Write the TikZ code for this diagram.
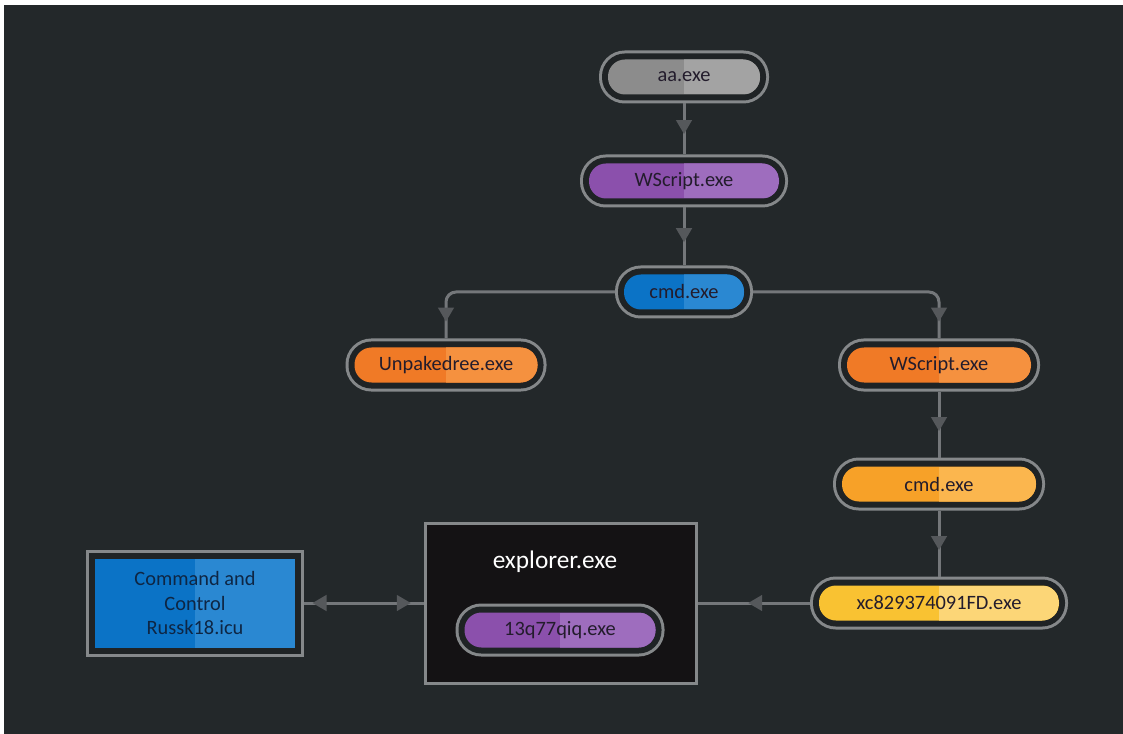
\documentclass[tikz,border=0pt]{standalone}
\usepackage{fontspec}
\setmainfont{Carlito}
\usetikzlibrary{arrows.meta,decorations.markings}
\newlength\px
\setlength\px{0.025cm}

\definecolor{bgdark}{HTML}{23282A}
\definecolor{gapdark}{HTML}{1F2325}
\definecolor{ringgray}{HTML}{85888A}
\definecolor{linegray}{HTML}{74777A}
\definecolor{arrowgray}{HTML}{55585B}
\definecolor{txtdark}{HTML}{231C2C}
\definecolor{txtnavy}{HTML}{0E2644}
\definecolor{graylo}{HTML}{8C8C8C}
\definecolor{grayhi}{HTML}{A3A3A3}
\definecolor{purplelo}{HTML}{8B50AC}
\definecolor{purplehi}{HTML}{9E6DBE}
\definecolor{bluelo}{HTML}{0B73C6}
\definecolor{bluehi}{HTML}{2A88D2}
\definecolor{orangelo}{HTML}{F07A26}
\definecolor{orangehi}{HTML}{F5913F}
\definecolor{amberlo}{HTML}{F7A128}
\definecolor{amberhi}{HTML}{FBB64E}
\definecolor{yellowlo}{HTML}{F9C232}
\definecolor{yellowhi}{HTML}{FCD677}
\definecolor{explorerfill}{HTML}{141214}

\tikzset{
	twotone/.style 2 args={fill=#1, path picture={\fill[#2, sharp corners] (path picture bounding box.north) rectangle (path picture bounding box.south east);}},
	ringed/.style={preaction={draw=ringgray, line width=18\px}, preaction={draw=gapdark, line width=12\px}, inner sep=0pt, outer sep=9\px},
	pill/.style 2 args={rectangle, rounded corners=17\px, minimum height=35\px, twotone={#1}{#2}, ringed, text=txtdark, font=\fontsize{14.5}{17}\selectfont},
	link/.style={draw=linegray, line width=3\px},
	tipat/.style={postaction={decorate, decoration={markings, mark=at position #1 with {\arrow[color=arrowgray]{Triangle[width=11pt,length=10pt]}}}}},
	tipback/.style={postaction={decorate, decoration={markings, mark=at position #1 with {\arrowreversed[color=arrowgray]{Triangle[width=11pt,length=10pt]}}}}}
}

\begin{document}
\begin{tikzpicture}[x=1\px, y=-1\px]
	%%%%% START %%%%%
	\useasboundingbox (0,0) rectangle (1123,734);
	\fill[white] (0,0) rectangle (1123,734);
	\fill[bgdark] (4,5) rectangle (1123,734);

	% process chain
	\node[pill={graylo}{grayhi}, minimum width=152\px] (aa) at (684,77) {aa.exe};
	\node[pill={purplelo}{purplehi}, minimum width=190\px] (wsa) at (684,181) {WScript.exe};
	\node[pill={bluelo}{bluehi}, minimum width=120\px] (cmda) at (684,292) {cmd.exe};
	\node[pill={orangelo}{orangehi}, minimum width=183\px] (unpak) at (446,365) {Unpakedree.exe};
	\node[pill={orangelo}{orangehi}, minimum width=184\px] (wsb) at (939,365) {WScript.exe};
	\node[pill={amberlo}{amberhi}, minimum width=194\px] (cmdb) at (939,484) {cmd.exe};
	\node[pill={yellowlo}{yellowhi}, minimum width=240\px] (xc) at (939,603) {xc829374091FD.exe};

	% injected explorer
	\node[draw=ringgray, line width=3\px, fill=explorerfill, minimum width=271\px, minimum height=160\px] (explorer) at (560.5,603) {};
	\node[text=white, font=\fontsize{18}{22}\selectfont] (explorerlabel) at (555,562) {explorer.exe};
	\node[pill={purplelo}{purplehi}, minimum width=191\px] (payload) at (560,630) {13q77qiq.exe};

	% c2 server
	\node[rectangle, twotone={bluelo}{bluehi}, ringed, minimum width=200\px, minimum height=89\px, align=center, text=txtnavy, font=\fontsize{14.5}{17.5}\selectfont] (cnc) at (195,603) {Command and\\Control\\Russk18.icu};

	\draw[link, tipat=0.6] (aa) -- (wsa);
	\draw[link, tipat=0.6] (wsa) -- (cmda);
	\draw[link, rounded corners=10\px, tipat=-12pt] (cmda.west) -| (unpak.north);
	\draw[link, rounded corners=10\px, tipat=-12pt] (cmda.east) -| (wsb.north);
	\draw[link, tipat=0.6] (wsb) -- (cmdb);
	\draw[link, tipat=0.6] (cmdb) -- (xc);
	\draw[link, tipat=0.55] (xc) -- (explorer);
	\draw[link, tipback=6pt, tipat=-9pt] (cnc) -- (explorer);
	%%%%% END %%%%%
\end{tikzpicture}
\end{document}
